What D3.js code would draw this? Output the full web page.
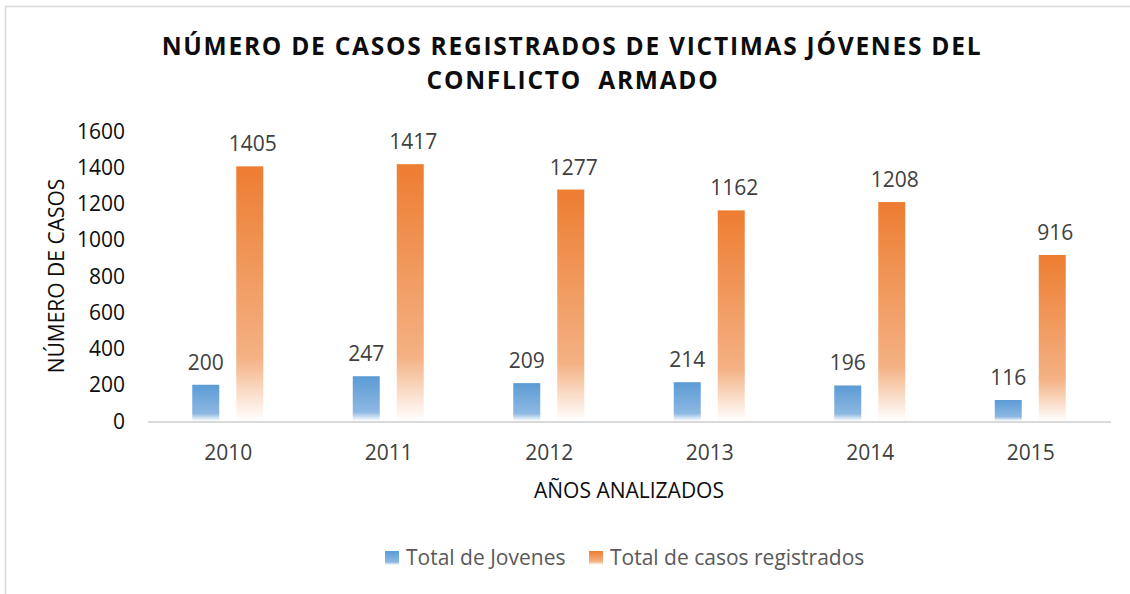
<!DOCTYPE html>
<html>
<head>
  <meta charset='utf-8' />
  <title>Casos registrados</title>
  <style>
    body { margin: 0; background: #fff; }
    svg text { font-family: 'Open Sans', sans-serif; }
  </style>
</head>
<body>
<div id="chart"></div>
<script src='https://d3js.org/d3.v7.min.js' charset='utf-8'></script>
<script>
  const years = ['2010', '2011', '2012', '2013', '2014', '2015']
  const jovenes = [200, 247, 209, 214, 196, 116]
  const casos = [1405, 1417, 1277, 1162, 1208, 916]
  const yTicks = [0, 200, 400, 600, 800, 1000, 1200, 1400, 1600]
  const seriesNames = ['Total de Jovenes', 'Total de casos registrados']

  const W = 1130, H = 594
  const margin = { left: 148, right: 1111, top: 131, bottom: 421 }

  const svg = d3.select('#chart').append('svg')
    .attr('width', W)
    .attr('height', H)

  // gradients, like the office fill
  const defs = svg.append('defs')
  const grads = [
    { id: 'gBlue', stops: [['0%', '#5B9BD5'], ['80%', '#8DB8E2'], ['100%', '#FFFFFF']] },
    { id: 'gOrange', stops: [['0%', '#ED7D31'], ['75%', '#F4B183'], ['100%', '#FFFFFF']] }
  ]
  grads.forEach(g => {
    const lg = defs.append('linearGradient')
      .attr('id', g.id)
      .attr('x1', 0).attr('y1', 0).attr('x2', 0).attr('y2', 1)
    g.stops.forEach(s => lg.append('stop').attr('offset', s[0]).attr('stop-color', s[1]))
  })

  // outer frame
  svg.append('rect')
    .attr('x', 5.5).attr('y', 6.5)
    .attr('width', W + 10).attr('height', H + 10)
    .attr('fill', 'none')
    .attr('stroke', '#D9D9D9')
    .attr('stroke-width', 1.5)

  const x = d3.scaleBand()
    .domain(years)
    .range([margin.left, margin.right])

  const y = d3.scaleLinear()
    .domain([0, 1600])
    .range([margin.bottom, margin.top])

  // title
  const title = svg.append('text')
    .attr('text-anchor', 'middle')
    .attr('font-weight', 700)
    .attr('font-size', 24.5)
    .attr('letter-spacing', 1.75)
    .attr('fill', '#0D0D0D')
  title.append('tspan').attr('x', 572).attr('y', 55).text('NÚMERO DE CASOS REGISTRADOS DE VICTIMAS JÓVENES DEL')
  title.append('tspan').attr('x', 573).attr('y', 89).attr('xml:space', 'preserve').text('CONFLICTO  ARMADO')

  // y axis labels
  svg.append('g')
    .selectAll('text')
    .data(yTicks)
    .join('text')
      .attr('x', 125)
      .attr('y', d => y(d) + 7.5)
      .attr('text-anchor', 'end')
      .attr('font-size', 21)
      .attr('fill', '#0D0D0D')
      .text(d => d)

  svg.append('text')
    .attr('transform', 'translate(64,276) rotate(-90)')
    .attr('text-anchor', 'middle')
    .attr('font-size', 21)
    .attr('fill', '#0D0D0D')
    .text('NÚMERO DE CASOS')

  // bars
  const bw = 27
  const groups = svg.append('g')
    .selectAll('g')
    .data(years)
    .join('g')
      .attr('transform', d => `translate(${x(d) + x.bandwidth() / 2},0)`)

  groups.append('rect')
    .attr('x', -36)
    .attr('width', bw)
    .attr('y', (d, i) => y(jovenes[i]))
    .attr('height', (d, i) => y(0) - y(jovenes[i]))
    .attr('fill', 'url(#gBlue)')

  groups.append('rect')
    .attr('x', 8)
    .attr('width', bw)
    .attr('y', (d, i) => y(casos[i]))
    .attr('height', (d, i) => y(0) - y(casos[i]))
    .attr('fill', 'url(#gOrange)')

  groups.append('text')
    .attr('x', -36 + bw / 2)
    .attr('y', (d, i) => y(jovenes[i]) - 15)
    .attr('text-anchor', 'middle')
    .attr('font-size', 21)
    .attr('fill', '#404040')
    .text((d, i) => jovenes[i])

  groups.append('text')
    .attr('x', 8 + bw / 2 + 3)
    .attr('y', (d, i) => y(casos[i]) - 15)
    .attr('text-anchor', 'middle')
    .attr('font-size', 21)
    .attr('fill', '#404040')
    .text((d, i) => casos[i])

  // x labels
  groups.append('text')
    .attr('x', 0)
    .attr('y', 460)
    .attr('text-anchor', 'middle')
    .attr('font-size', 21)
    .attr('fill', '#404040')
    .text(d => d)

  // baseline
  svg.append('line')
    .attr('x1', margin.left).attr('x2', margin.right)
    .attr('y1', y(0) + 1).attr('y2', y(0) + 1)
    .attr('stroke', '#D9D9D9')
    .attr('stroke-width', 2)

  svg.append('text')
    .attr('x', 629)
    .attr('y', 498)
    .attr('text-anchor', 'middle')
    .attr('font-size', 21)
    .attr('fill', '#0D0D0D')
    .text('AÑOS ANALIZADOS')

  // legend
  const legendX = [385, 589]
  const legend = svg.append('g')
    .selectAll('g')
    .data(seriesNames)
    .join('g')
      .attr('transform', (d, i) => `translate(${legendX[i]},551)`)
  legend.append('rect')
    .attr('width', 14).attr('height', 14)
    .attr('fill', (d, i) => i === 0 ? 'url(#gBlue)' : 'url(#gOrange)')
  legend.append('text')
    .attr('x', 21)
    .attr('y', 14)
    .attr('font-size', 21)
    .attr('fill', '#595959')
    .text(d => d)
</script>
</body>
</html>
